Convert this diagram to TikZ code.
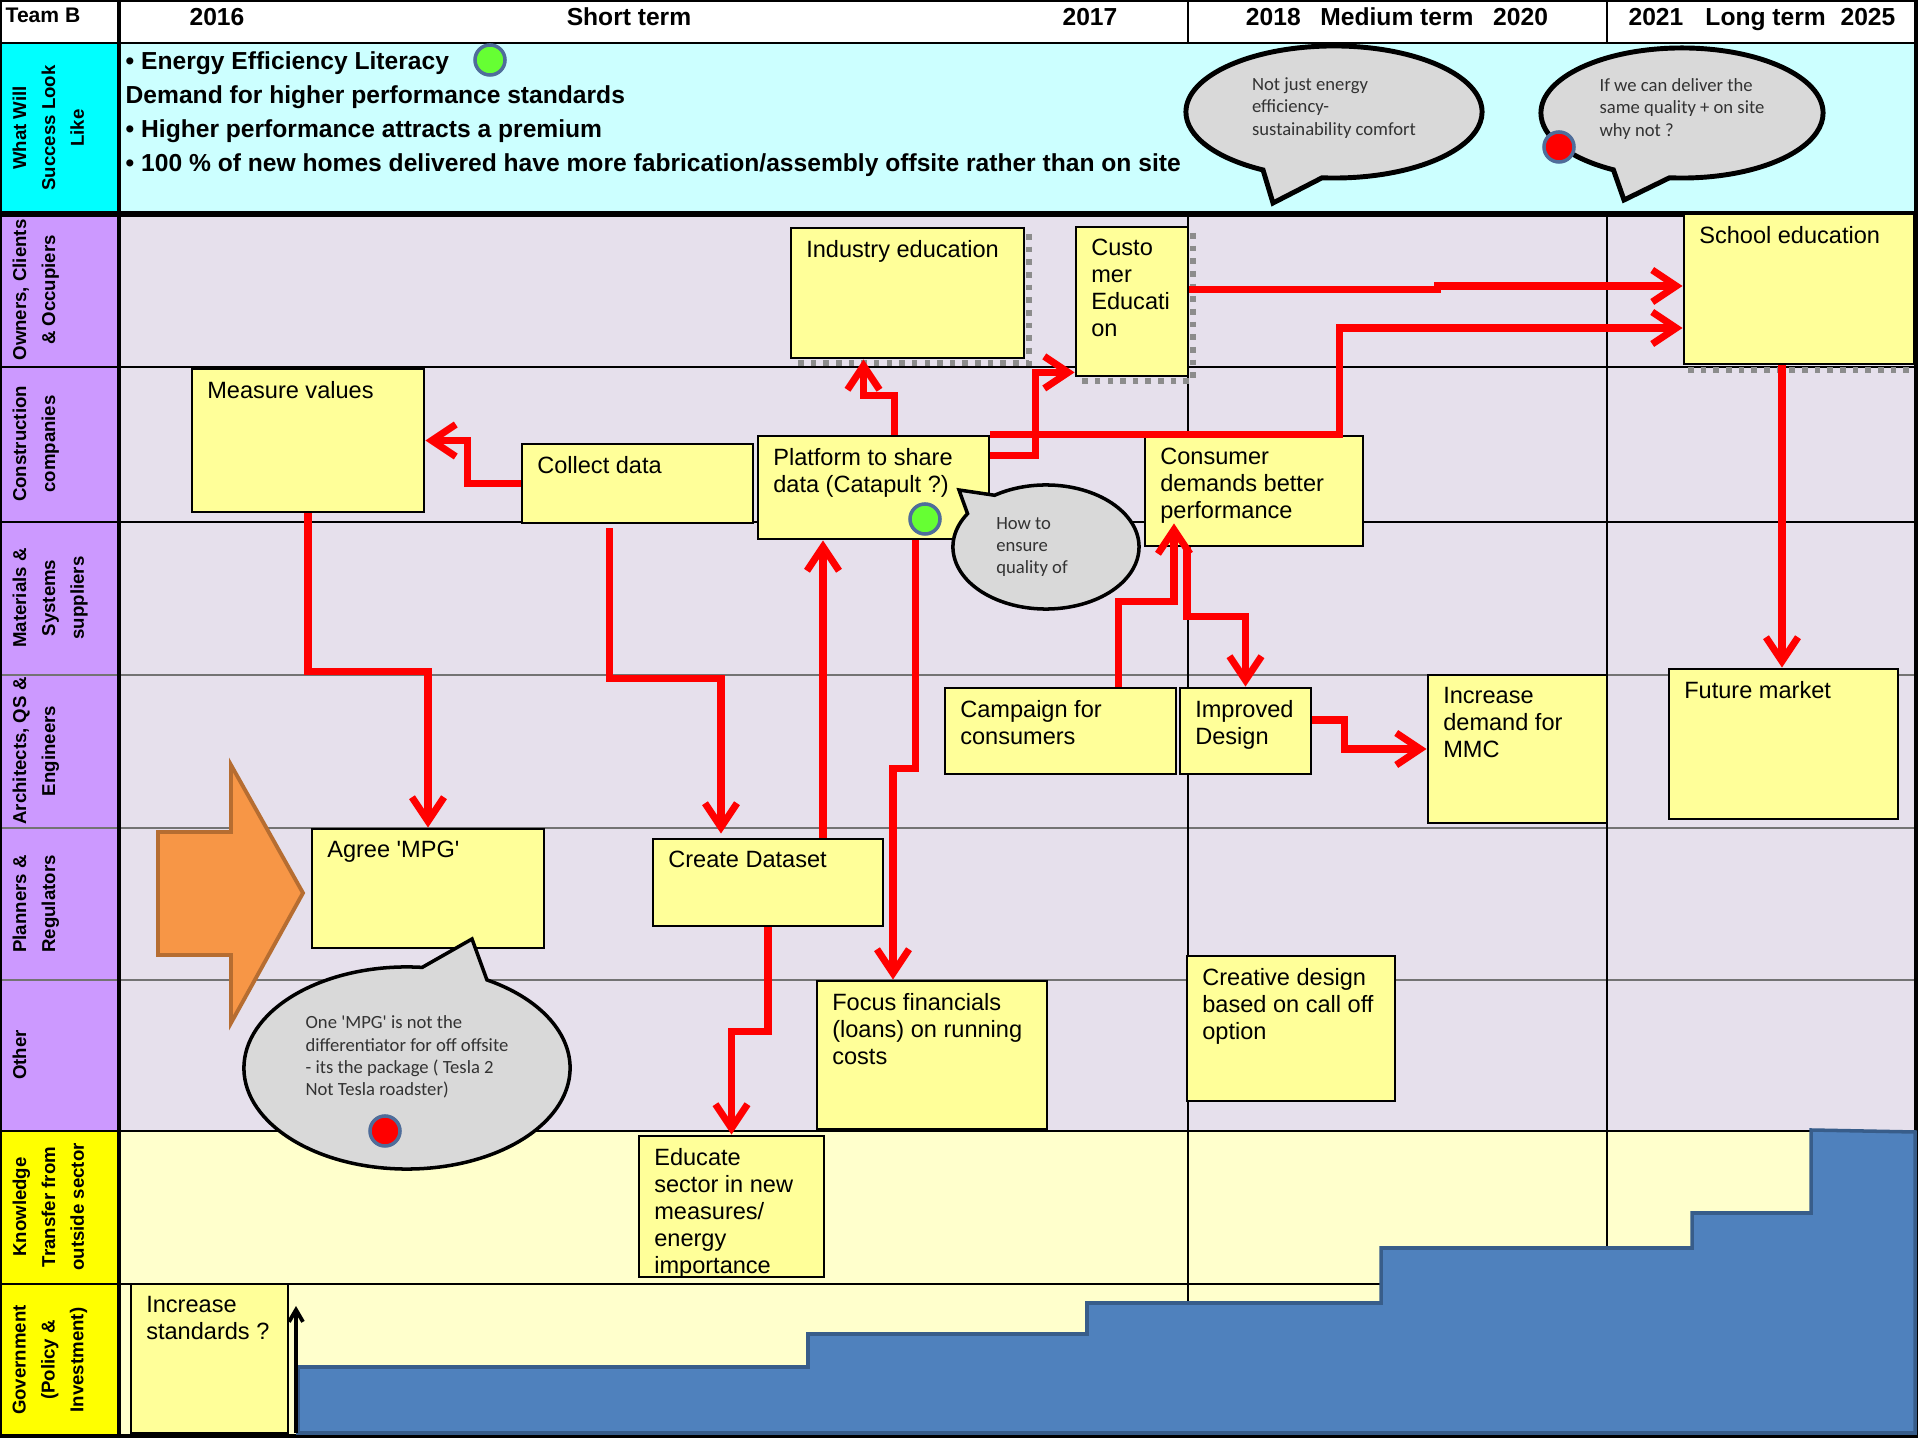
\documentclass[tikz,border=0pt]{standalone}
\usepackage{fontspec}
\setmainfont{Liberation Sans}
\newfontfamily\bubblefont{Carlito}
\usepackage{xcolor}
\usepackage{tikz}
\usetikzlibrary{arrows.meta, shapes.callouts, fit, calc}

\definecolor{headcyan}{HTML}{00FFFF}
\definecolor{lightcyan}{HTML}{CCFFFF}
\definecolor{lanepurple}{HTML}{CC99FF}
\definecolor{lanegrey}{HTML}{E6E0EC}
\definecolor{govyellow}{HTML}{FFFF00}
\definecolor{paleyellow}{HTML}{FFFFCC}
\definecolor{stickyyellow}{HTML}{FFFF99}
\definecolor{flowred}{HTML}{FF0000}
\definecolor{stairblue}{HTML}{4F81BD}
\definecolor{stairedge}{HTML}{385D8A}
\definecolor{arroworange}{HTML}{F79646}
\definecolor{arrowedge}{HTML}{B66D31}
\definecolor{bubblegrey}{HTML}{D9D9D9}
\definecolor{dotedge}{HTML}{4F6D9A}
\definecolor{dotgreen}{HTML}{66FF33}

\begin{document}
\begin{tikzpicture}[
                x=0.01cm, y=-0.01cm,
                grid/.style={draw=black, line width=0.7pt},
                softgrid/.style={draw=black!55, line width=0.7pt},
                lanelabel/.style={rotate=90, anchor=north, align=center, inner sep=0pt, font=\bfseries\fontsize{5.3}{8.2}\selectfont},
                headtext/.style={anchor=base, font=\bfseries\fontsize{7}{8}\selectfont},
                note/.style={rectangle, draw, line width=0.8pt, fill=stickyyellow, inner sep=0pt},
                notetext/.style={anchor=north west, align=left, inner xsep=0.16cm, inner ysep=0.13cm, font=\fontsize{6.7}{7.7}\selectfont},
                bubble/.style={ellipse callout, draw, line width=1pt, fill=bubblegrey, callout pointer arc=24, inner sep=0pt},
                bubbletext/.style={align=left, text=black!80, font=\bubblefont\fontsize{5.3}{6.3}\selectfont},
                dot/.style={circle, draw=dotedge, line width=1pt, minimum size=0.3cm, inner sep=0pt},
                halftone/.style={draw=black!45, line width=1.6pt, dotted},
                flow/.style={draw=flowred, line width=2pt, -{Straight Barb[length=0.24cm, width=0.32cm]}}
            ]
                \useasboundingbox (0,0) rectangle (1920,1440);

                % Lanes
                \fill[white] (0,0) rectangle (1916,43);
                \fill[headcyan] (0,43) rectangle (119,214);
                \fill[lightcyan] (119,43) rectangle (1916,214);
                \fill[lanepurple] (0,214) rectangle (119,1131);
                \fill[lanegrey] (119,214) rectangle (1916,1131);
                \fill[govyellow] (0,1131) rectangle (119,1436);
                \fill[paleyellow] (119,1131) rectangle (1916,1436);

                \draw[softgrid] (0,675) -- (1916,675) (0,828) -- (1916,828) (0,980) -- (1916,980);
                \draw[grid] (0,43) -- (1916,43) (0,367) -- (1916,367) (0,522) -- (1916,522)
                    (0,1131) -- (1916,1131) (0,1284) -- (1916,1284);
                \draw[grid, line width=1.6pt] (0,214) -- (1916,214);
                \draw[grid] (1188,0) -- (1188,43) (1188,214) -- (1188,1436)
                    (1607,0) -- (1607,43) (1607,214) -- (1607,1436);
                \draw[grid, line width=1.2pt] (119,0) -- (119,1436) (0,0) rectangle (1916,1436);

                % Stairs
                \filldraw[fill=stairblue, draw=stairedge, line width=1pt] (298,1433) -- (298,1367) -- (808,1367)
                    -- (808,1334) -- (1087,1334) -- (1087,1303) -- (1381,1303) -- (1381,1248) -- (1692,1248)
                    -- (1692,1213) -- (1811,1213) -- (1811,1130) -- (1915,1132) -- (1915,1433) -- cycle;
                \coordinate (stairfoot) at (296,1433);
                \coordinate (stairtop) at (296,1306);
                \draw[line width=1.1pt, -{Straight Barb[length=0.12cm, width=0.14cm]}] (stairfoot) -- (stairtop);

                % Big arrow
                \filldraw[fill=arroworange, draw=arrowedge, line width=1.1pt] (158,832) -- (231,832) -- (231,765)
                    -- (303,893) -- (231,1023) -- (231,955) -- (158,955) -- cycle;

                % Headings
                \node[headtext, font=\bfseries\fontsize{6}{7}\selectfont] (team) at (43,23) {Team B};
                \node[headtext] (y2016) at (217,26) {2016};
                \node[headtext] (shortterm) at (629,26) {Short term};
                \node[headtext] (y2017) at (1090,26) {2017};
                \node[headtext] (mediumterm) at (1397,26) {2018\hspace{0.8em}Medium term\hspace{0.8em}2020};
                \node[headtext] (longterm) at (1762,26) {2021\hspace{0.9em}Long term\hspace{0.6em}2025};

                \node[lanelabel] (lsuccess) at (12,128) {What Will\\Success Look\\Like};
                \node[lanelabel] (lowners) at (12,290) {Owners, Clients\\\& Occupiers};
                \node[lanelabel] (lbuild) at (12,444) {Construction\\companies};
                \node[lanelabel] (lsupply) at (12,598) {Materials \&\\Systems\\suppliers};
                \node[lanelabel] (ldesign) at (12,751) {Architects, QS \&\\Engineers};
                \node[lanelabel] (lplan) at (12,904) {Planners \&\\Regulators};
                \node[lanelabel] (lother) at (12,1055) {Other};
                \node[lanelabel] (lknow) at (12,1207) {Knowledge\\Transfer from\\outside sector};
                \node[lanelabel] (lgov) at (12,1360) {Government\\(Policy \&\\Investment)};

                \node[anchor=north west, align=left, inner sep=0pt, font=\bfseries\fontsize{7}{9.7}\selectfont] (success) at (125,51)
                    {• Energy Efficiency Literacy\\Demand for higher performance standards\\• Higher performance attracts a premium\\• 100 \% of new homes delivered have more fabrication/assembly offsite rather than on site};

                % Shadows
                \draw[halftone] (1029,234) |- (797,363);
                \draw[halftone] (1193,233) |- (1082,381);
                \draw[halftone] (1688,370) -- (1914,370);

                % Sticky notes
                \node[note, fit={(791,228) (1024,358)}, label={[notetext]north west:Industry education}] (industry) {};
                \node[note, fit={(1076,227) (1188,376)}, label={[notetext]north west:{Custo\\mer\\Educati\\on}}] (customer) {};
                \node[note, fit={(1684,214) (1914,364)}, label={[notetext]north west:School education}] (school) {};
                \node[note, fit={(192,369) (424,512)}, label={[notetext]north west:Measure values}] (measure) {};
                \node[note, fit={(522,444) (753,523)}, label={[notetext]north west:Collect data}] (collect) {};
                \node[note, fit={(758,436) (989,539)}, label={[notetext]north west:{Platform to share\\data (Catapult ?)}}] (platform) {};
                \node[note, fit={(1145,436) (1363,546)}, label={[notetext]north west:{Consumer\\demands better\\performance}}] (consumer) {};
                \node[note, fit={(945,688) (1176,774)}, label={[notetext]north west:{Campaign for\\consumers}}] (campaign) {};
                \node[note, fit={(1180,688) (1311,774)}, label={[notetext]north west:{Improved\\Design}}] (improved) {};
                \node[note, fit={(1428,675) (1607,823)}, label={[notetext]north west:{Increase\\demand for\\MMC}}] (increase) {};
                \node[note, fit={(1669,669) (1898,819)}, label={[notetext]north west:Future market}] (future) {};
                \node[note, fit={(312,829) (544,948)}, label={[notetext]north west:{Agree \textquotesingle MPG\textquotesingle}}] (agree) {};
                \node[note, fit={(653,839) (883,926)}, label={[notetext]north west:Create Dataset}] (dataset) {};
                \node[note, fit={(817,981) (1047,1129)}, label={[notetext]north west:{Focus financials\\(loans) on running\\costs}}] (focus) {};
                \node[note, fit={(1187,956) (1395,1101)}, label={[notetext]north west:{Creative design\\based on call off\\option}}] (creative) {};
                \node[note, fit={(639,1136) (824,1277)}, label={[notetext]north west:{Educate\\sector in new\\measures/\\energy\\importance}}] (educate) {};
                \node[note, fit={(131,1284) (288,1433)}, label={[notetext]north west:{Increase\\standards ?}}] (standards) {};

                % Flows
                \draw[flow] (collect.west) -- ++(-53,0) |- (measure.east);
                \draw[flow] (measure.south) -- ++(0,158) -| (agree.north);
                \draw[flow] ($(collect.south)+(-28,4)$) -- ++(0,150) -| ($(dataset.north)+(-47,-4)$);
                \draw[flow] ($(dataset.north)+(55,0)$) coordinate (up1) -- (up1 |- platform.south);
                \draw[flow] ($(platform.south)+(42,0)$) -- ++(0,228) -| ($(focus.north)+(-39,0)$);
                \draw[flow] ($(platform.north)+(21,0)$) -- ++(0,-39) -| ($(industry.south)+(-44,0)$);
                \draw[flow] ($(platform.east)+(0,-32)$) -- ++(45,0) |- ($(customer.south west)+(0,-5)$);
                \draw[flow] (platform.north east) -- ++(349,0) |- ($(school.west)+(0,39)$);
                \draw[flow] ($(customer.east)+(0,-12)$) -- ++(248,0) -- ++(0,-3.5) -- ($(school.west)+(0,-3)$);
                \draw[flow] ($(school.south)+(-17,0)$) coordinate (down1) -- (down1 |- future.north);
                \draw[flow] ($(campaign.north)+(58,0)$) -- ++(0,-85) -| ($(consumer.south)+(-80,-24)$);
                \draw[flow] ($(consumer.south)+(-67,0)$) -- ++(0,69) -| (improved.north);
                \draw[flow] ($(improved.east)+(0,-11)$) -- ++(32,0) |- (increase.west);
                \draw[flow] (dataset.south) -- ++(0,104) -| (educate.north);

                % Comments
                \node[bubble, line width=1.4pt, minimum width=2.96cm, minimum height=1.32cm, callout absolute pointer={(1273,203)},
                    label={[bubbletext, yshift=0.04cm]center:{Not just energy\\efficiency-\\sustainability comfort}}] (comfortnote) at (1334,112) {};
                \node[bubble, line width=1.4pt, minimum width=2.82cm, minimum height=1.30cm, callout absolute pointer={(1624,200)},
                    label={[bubbletext, yshift=0.04cm]center:{If we can deliver the\\same quality + on site\\why not ?}}] (qualitynote) at (1682,113) {};
                \node[bubble, minimum width=1.86cm, minimum height=1.24cm, callout absolute pointer={(959,490)},
                    label={[bubbletext, xshift=-0.14cm]center:{How to\\ensure\\quality of}}] (ensurenote) at (1046,547) {};
                \node[bubble, minimum width=3.26cm, minimum height=2.02cm, callout absolute pointer={(472,939)},
                    label={[bubbletext, yshift=0.11cm]center:{One \textquotesingle MPG\textquotesingle{} is not the\\differentiator for off offsite\\- its the package ( Tesla 2\\Not Tesla roadster)}}] (mpgnote) at (407,1068) {};

                % Status dots
                \node[dot, fill=dotgreen] (okdot1) at (490,60) {};
                \node[dot, fill=dotgreen] (okdot2) at (925,519) {};
                \node[dot, fill=flowred] (alertdot1) at (1559,147) {};
                \node[dot, fill=flowred] (alertdot2) at (385,1131) {};
            \end{tikzpicture}
\end{document}
